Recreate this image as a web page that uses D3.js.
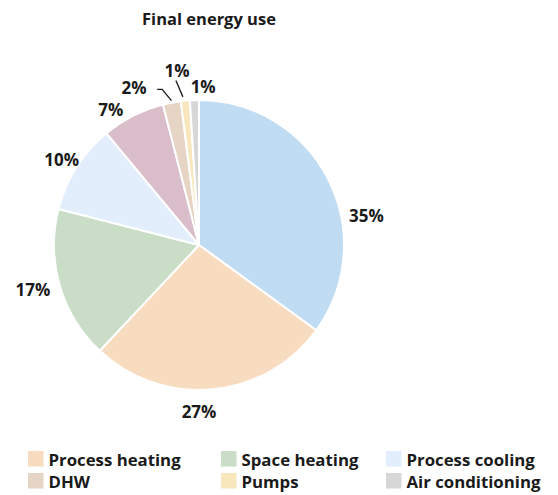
<!DOCTYPE html>
<html>
<head>
<meta charset="utf-8">
<script src="https://cdn.jsdelivr.net/npm/d3@7"></script>
<style>
  html, body { margin: 0; padding: 0; background: #fff; }
  svg { display: block; font-family: "Open Sans", "Noto Sans", sans-serif; font-weight: 700; }
</style>
</head>
<body>
<svg id="chart" width="558" height="495"></svg>
<script>
// Share of final energy use by end use (percent), clockwise from 12 o'clock
const categories = ["Process drives", "Process heating", "Space heating", "Process cooling",
                    "Lighting", "DHW", "Pumps", "Air conditioning"];
const shares = [35, 27, 17, 10, 7, 2, 1, 1];
const colors = ["#c0dcf2", "#f8dcbf", "#c9ddc7", "#e2eefb", "#d9bdc9", "#e6d4c5", "#f8e7bd", "#d7d7d7"];
const legendItems = ["Process heating", "Space heating", "Process cooling", "DHW", "Pumps", "Air conditioning"];
const title = "Final energy use";

const svg = d3.select("#chart");
const cx = 199, cy = 245, radius = 145;

svg.append("text")
  .attr("x", 209).attr("y", 25)
  .attr("text-anchor", "middle")
  .attr("font-size", 16.5)
  .attr("fill", "#1a1a1a")
  .text(title);

const data = categories.map((c, i) => ({ name: c, value: shares[i], color: colors[i] }));
const pie = d3.pie().sort(null).value(d => d.value);
const arcs = pie(data);
const arc = d3.arc().innerRadius(0).outerRadius(radius);

const g = svg.append("g").attr("transform", `translate(${cx},${cy})`);

g.selectAll("path.slice")
  .data(arcs)
  .join("path")
  .attr("class", "slice")
  .attr("d", arc)
  .attr("fill", d => d.data.color)
  .attr("stroke", "#fff")
  .attr("stroke-width", 2)
  .attr("stroke-linejoin", "round");

// label placement: angle (deg from 12 o'clock) and radius; defaults to slice midpoint
const labelPlacement = {
  0: { a: 80, r: 170 },
  1: { a: 180, r: 166 },
  2: { a: 255, r: 172 },
  3: { a: 302, r: 162 },
  4: { a: 327, r: 162 },
  5: { a: 337.5, r: 170 },
  6: { a: 352.8, r: 176 },
  7: { a: 1.5, r: 159 }
};
const polar = (deg, r) => [r * Math.sin(deg * Math.PI / 180), -r * Math.cos(deg * Math.PI / 180)];
const midDeg = d => (d.startAngle + d.endAngle) / 2 * 180 / Math.PI;

arcs.forEach((d, i) => {
  const p = labelPlacement[i] || { a: midDeg(d), r: radius + 20 };
  const [x, y] = polar(p.a, p.r);
  g.append("text")
    .attr("x", x).attr("y", y)
    .attr("text-anchor", "middle")
    .attr("dominant-baseline", "central")
    .attr("font-size", 17)
    .attr("fill", "#1a1a1a")
    .text(d.value + "%");
});

// leader lines for the two thin slices at the top
{
  const mid = midDeg(arcs[5]);
  const end = polar(mid, radius + 2);
  const elbow = polar(mid - 2.5, radius + 15);
  g.append("path")
    .attr("d", `M${elbow[0] - 5},${elbow[1]}H${elbow[0]}L${end[0]},${end[1]}`)
    .attr("fill", "none").attr("stroke", "#1a1a1a").attr("stroke-width", 1.3);
}
{
  const mid = midDeg(arcs[6]);
  const end = polar(mid - 0.8, radius + 4);
  const start = polar(mid - 2.6, radius + 21);
  g.append("path")
    .attr("d", `M${start[0]},${start[1]}L${end[0]},${end[1]}`)
    .attr("fill", "none").attr("stroke", "#1a1a1a").attr("stroke-width", 1.3);
}

// legend: three columns, two rows
const colX = [28, 221, 386];
const rowY = [451, 473];
const sw = 15.5;
const colorOf = name => colors[categories.indexOf(name)];
const lg = svg.append("g");
legendItems.forEach((name, i) => {
  const x = colX[i % 3], y = rowY[Math.floor(i / 3)];
  lg.append("rect").attr("x", x).attr("y", y).attr("width", sw).attr("height", sw)
    .attr("fill", colorOf(name));
  lg.append("text").attr("x", x + sw + 5).attr("y", y + sw / 2 + 0.5)
    .attr("dominant-baseline", "central")
    .attr("font-size", 16.8)
    .attr("fill", "#1a1a1a")
    .text(name);
});
</script>
</body>
</html>
